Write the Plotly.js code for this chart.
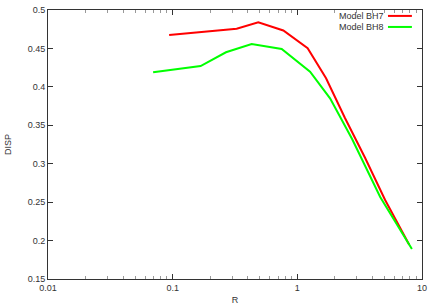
<!DOCTYPE html>
<html>
<head>
<meta charset="utf-8">
<script src="https://cdn.plot.ly/plotly-3.0.1.min.js"></script>
<style>html,body{margin:0;padding:0;background:#fff;}#chart{width:436px;height:305px;}</style>
</head>
<body>
<div id="chart"></div>
<script>
// Series names
var seriesNames = ["Model BH7", "Model BH8"];
// Model BH7 (red)
var bh7R    = [0.0937, 0.225, 0.326, 0.486, 0.772, 1.21, 1.70, 2.41, 3.50, 5.06, 7.9];
var bh7Disp = [0.4675, 0.4727, 0.4757, 0.484, 0.4733, 0.4502, 0.4111, 0.3595, 0.3074, 0.2528, 0.1945];
// Model BH8 (green)
var bh8R    = [0.0697, 0.1675, 0.2676, 0.430, 0.749, 1.265, 1.83, 2.75, 4.62, 8.30];
var bh8Disp = [0.4189, 0.4271, 0.445, 0.4558, 0.4493, 0.4197, 0.3851, 0.3322, 0.2567, 0.189];
var colors = ["#ff0000", "#00ff00"];

var traces = [
  {x: bh7R, y: bh7Disp, name: seriesNames[0], mode: "lines", line: {color: colors[0], width: 2}, showlegend: false},
  {x: bh8R, y: bh8Disp, name: seriesNames[1], mode: "lines", line: {color: colors[1], width: 2}, showlegend: false}
];

var font = {family: "Liberation Sans, Arial, sans-serif", size: 9, color: "#333"};

// gnuplot-style key: text right-aligned, line sample to the right
var annotations = [], shapes = [];
var keyY = [0.978, 0.937];
for (var i = 0; i < seriesNames.length; i++) {
  annotations.push({xref: "paper", yref: "paper", x: 0.903, y: keyY[i], xanchor: "right", yanchor: "middle",
    text: seriesNames[i], showarrow: false, font: font});
  shapes.push({type: "line", xref: "paper", yref: "paper", x0: 0.909, x1: 0.973, y0: keyY[i], y1: keyY[i],
    line: {color: colors[i], width: 2}});
}

var layout = {
  width: 436, height: 305,
  margin: {l: 48, r: 14, t: 10, b: 26},
  paper_bgcolor: "#fff", plot_bgcolor: "#fff",
  font: font,
  showlegend: false,
  xaxis: {
    type: "log", range: [-2, 1], tick0: 0, dtick: 1,
    showgrid: false, zeroline: false,
    showline: true, linecolor: "#333", linewidth: 1, mirror: "ticks",
    ticks: "inside", ticklen: 5, tickcolor: "#333",
    minor: {ticks: "inside", ticklen: 3, tickcolor: "#999", showgrid: false},
    tickfont: font,
    title: {text: "R", font: font, standoff: 9}
  },
  yaxis: {
    range: [0.15, 0.5], dtick: 0.05, tick0: 0.15,
    showgrid: false, zeroline: false,
    showline: true, linecolor: "#333", linewidth: 1, mirror: "ticks",
    ticks: "inside", ticklen: 5, tickcolor: "#333",
    tickfont: font,
    title: {text: "DISP", font: font, standoff: 14}
  },
  annotations: annotations,
  shapes: shapes
};

Plotly.newPlot("chart", traces, layout, {staticPlot: true, displayModeBar: false});
</script>
</body>
</html>
